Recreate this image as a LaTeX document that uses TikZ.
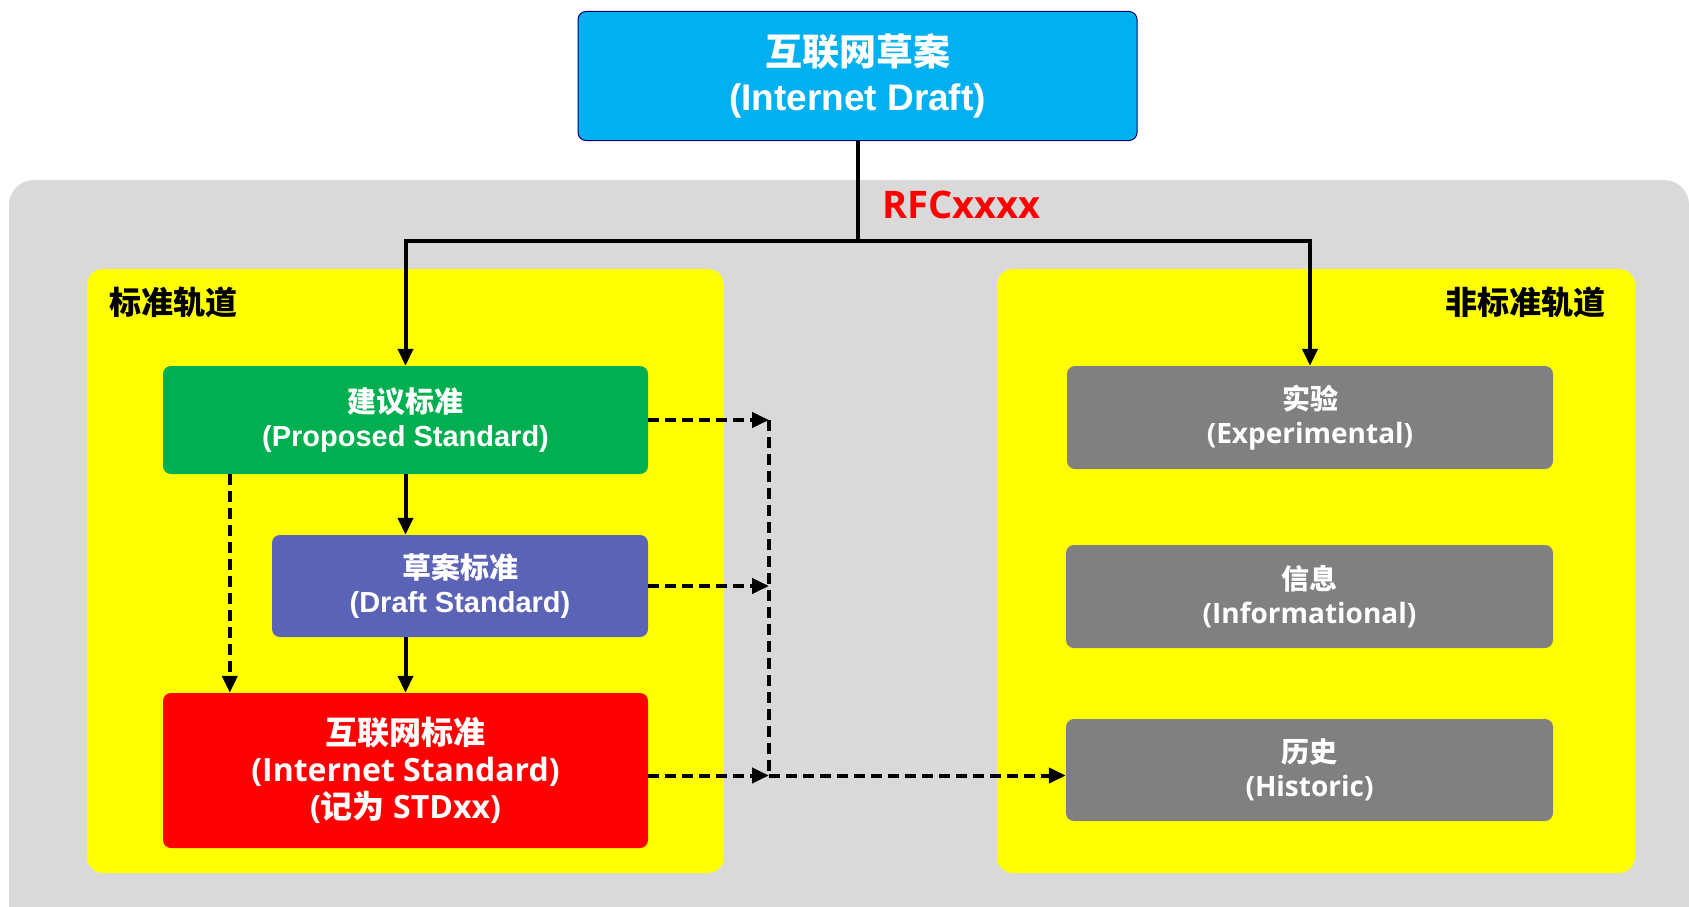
\documentclass[tikz,border=0pt]{standalone}
\usepackage{fontspec}
\setmainfont{Liberation Sans}
\newfontfamily\cjk{Noto Sans CJK SC}
\newfontfamily\hum{Open Sans}
\usepackage{xcolor}
\usetikzlibrary{arrows.meta, positioning, calc}

\definecolor{draftcyan}{HTML}{00B0F0}
\definecolor{propgreen}{HTML}{00B050}
\definecolor{dstdblue}{HTML}{5B63B7}
\definecolor{bggray}{HTML}{D9D9D9}
\definecolor{boxgray}{HTML}{808080}
\definecolor{panelyellow}{RGB}{255,255,0}

\begin{document}
\begin{tikzpicture}[x=1pt, y=-1pt,
    box/.style={rounded corners=8pt, align=center, text=white, inner sep=0pt},
    arrow/.style={-{Triangle[length=17pt, width=15pt]}, line width=4pt},
    dasharrow/.style={arrow, dash pattern=on 11pt off 6pt},
    panel/.style={fill=panelyellow, rounded corners=16pt},
    track/.style={font=\fontsize{32}{38}\selectfont\cjk\bfseries}
]
  \useasboundingbox (0,0) rectangle (1689,907);

  % Background and tracks
  \fill[bggray, rounded corners=25pt] (9,180) rectangle (1689,940);
  \fill[panel] (87,269) rectangle (724,873);
  \fill[panel] (997,269) rectangle (1635,873);
  \node[track, anchor=west] (stdtrack) at (106,302) {标准轨道};
  \node[track, anchor=east] (nontrack) at (1609,302) {非标准轨道};

  % Internet draft
  \node[box, fill=draftcyan, draw=black!55!blue, line width=1pt, minimum width=559pt, minimum height=129pt,
        font=\fontsize{37}{45}\selectfont\bfseries] (idraft) at (857.5,76) {{\cjk 互联网草案}\\(Internet Draft)};

  % Standards track
  \node[box, fill=propgreen, minimum width=485pt, minimum height=108pt,
        font=\fontsize{29}{34}\selectfont\bfseries] (propstd) at (405.5,420) {{\cjk 建议标准}\\(Proposed Standard)};
  \node[box, fill=dstdblue, minimum width=376pt, minimum height=102pt,
        font=\fontsize{29}{34}\selectfont\bfseries] (draftstd) at (460,586) {{\cjk 草案标准}\\(Draft Standard)};
  \node[box, fill=red, minimum width=485pt, minimum height=155pt,
        font=\fontsize{32}{37}\selectfont\hum\bfseries] (inetstd) at (405.5,770.5) {{\cjk 互联网标准}\\(Internet Standard)\\({\cjk 记为} STDxx)};

  % Non-standards track
  \node[box, fill=boxgray, minimum width=486pt, minimum height=103pt,
        font=\fontsize{28}{34}\selectfont\hum\bfseries] (exper) at (1310,417.5) {{\cjk 实验}\\(Experimental)};
  \node[box, fill=boxgray, minimum width=487pt, minimum height=103pt,
        font=\fontsize{28}{34}\selectfont\hum\bfseries] (info) at (1309.5,596.5) {{\cjk 信息}\\(Informational)};
  \node[box, fill=boxgray, minimum width=487pt, minimum height=102pt,
        font=\fontsize{28}{34}\selectfont\hum\bfseries] (histo) at (1309.5,770) {{\cjk 历史}\\(Historic)};

  % Publication as RFC
  \coordinate (split) at (858,241);
  \coordinate (bus) at (769,0);
  \draw[line width=4pt] (idraft.south) -- (idraft.south |- split);
  \draw[arrow] (idraft.south |- split) -| (propstd.north);
  \draw[arrow] (idraft.south |- split) -| (exper.north);
  \node[text=red, font=\fontsize{38}{40}\selectfont\hum\bfseries, anchor=west] (rfc) at (879,205) {RFCxxxx};

  % Promotion
  \draw[arrow] (propstd.south) -- (propstd.south |- draftstd.north);
  \draw[arrow] (inetstd.north |- draftstd.south) -- (inetstd.north);
  \draw[dasharrow] ([xshift=67pt]propstd.south west) -- ([xshift=67pt]inetstd.north west);

  % Moves to historic
  \draw[dasharrow] (propstd.east) -- (propstd.east -| bus);
  \draw[dasharrow] (draftstd.east) -- (draftstd.east -| bus);
  \draw[dasharrow] ([yshift=-5pt]inetstd.east) -- ([yshift=-5pt]inetstd.east -| bus);
  \draw[line width=4pt, dash pattern=on 11pt off 6pt] (propstd.east -| bus) -- ([yshift=-5pt]inetstd.east -| bus);
  \draw[dasharrow] ([yshift=-5pt]inetstd.east -| bus) -- ([yshift=-5pt]inetstd.east -| histo.west);
\end{tikzpicture}
\end{document}
